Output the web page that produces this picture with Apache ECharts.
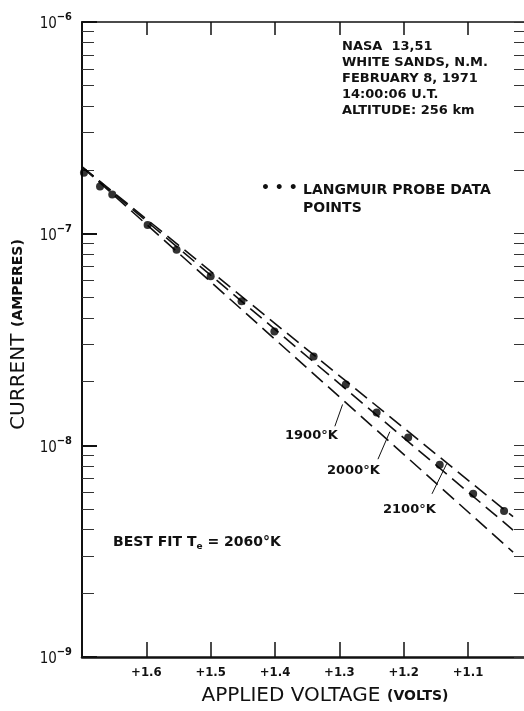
<!DOCTYPE html>
<html>
<head>
<meta charset="utf-8">
<script src="https://cdn.jsdelivr.net/npm/echarts@6/dist/echarts.min.js"></script>
<style>
  html, body { margin: 0; padding: 0; background: #fff; }
  #chart { width: 524px; height: 711px; }
</style>
</head>
<body>
<div id="chart"></div>
<script>
// Langmuir probe data points (volts, amperes)
const voltage = [1.697, 1.672, 1.653, 1.598, 1.553, 1.500, 1.452, 1.401, 1.340, 1.290, 1.242, 1.193, 1.144, 1.092, 1.044];
const current = [1.94e-7, 1.67e-7, 1.53e-7, 1.10e-7, 8.4e-8, 6.3e-8, 4.8e-8, 3.45e-8, 2.63e-8, 1.94e-8, 1.43e-8, 1.09e-8, 8.1e-9, 5.9e-9, 4.9e-9];

// fitted temperature curves (straight on the log axis): start + end
const fitNames = ["2100°K", "2000°K", "1900°K"];
const fitStartV = [1.70, 1.70, 1.70];
const fitStartI = [2.07e-7, 2.07e-7, 2.07e-7];
const fitEndV = [1.03, 1.03, 1.03];
const fitEndI = [4.6e-9, 3.98e-9, 3.13e-9];

// little leader lines from the labels to the curves
const leaderV = [[1.307, 1.295], [1.240, 1.2215], [1.156, 1.133]];
const leaderI = [[1.23e-8, 1.56e-8], [8.6e-9, 1.16e-8], [5.9e-9, 8.2e-9]];

// axes
const xMin = 1.013, xMax = 1.70;
const xTicks = [1.1, 1.2, 1.3, 1.4, 1.5, 1.6];
const yMin = 1e-9, yMax = 1e-6;
const yDecades = [1e-9, 1e-8, 1e-7, 1e-6];
const yMinorMult = [2, 3, 4, 5, 6, 7, 8, 9];

const yMinor = [];
yDecades.slice(0, 3).forEach(d => yMinorMult.forEach(m => yMinor.push(d * m)));
const yAll = yDecades.concat(yMinor);

const FONT = '"DejaVu Sans", sans-serif';
const FONT_C = '"DejaVu Sans Condensed", "DejaVu Sans", sans-serif';
const INK = "#111";

const chart = echarts.init(document.getElementById("chart"), null, { renderer: "canvas" });

const baseY = {
  type: "log",
  logBase: 10,
  min: yMin,
  max: yMax,
  splitLine: { show: false },
  axisLabel: { show: false },
  axisLine: { show: false },
};

const series = [];
fitNames.forEach((n, i) => {
  series.push({
    name: n,
    type: "line",
    data: [[fitStartV[i], fitStartI[i]], [fitEndV[i], fitEndI[i]]],
    symbol: "none",
    silent: true,
    lineStyle: { color: INK, width: 1.6, type: [15, 7] },
    z: 2,
  });
});
leaderV.forEach((lv, i) => {
  series.push({
    type: "line",
    data: [[lv[0], leaderI[i][0]], [lv[1], leaderI[i][1]]],
    symbol: "none",
    silent: true,
    lineStyle: { color: INK, width: 1 },
    z: 2,
  });
});
series.push({
  name: "LANGMUIR PROBE DATA POINTS",
  type: "scatter",
  data: voltage.map((v, i) => [v, current[i]]),
  symbol: "circle",
  symbolSize: 8,
  itemStyle: { color: "#000" },
  z: 3,
});

const option = {
  animation: false,
  backgroundColor: "#fff",
  grid: { left: 82, right: 0, top: 22, bottom: 53 },
  xAxis: [
    {
      type: "value",
      min: xMin,
      max: xMax,
      inverse: true,
      position: "bottom",
      splitLine: { show: false },
      axisLine: { lineStyle: { color: INK, width: 2.5 } },
      axisTick: { inside: true, length: 15, customValues: xTicks, lineStyle: { color: INK, width: 1.5 } },
      axisLabel: {
        customValues: xTicks,
        margin: 9,
        color: INK,
        fontFamily: FONT_C,
        fontWeight: "bold",
        fontSize: 13,
        formatter: v => "+" + v.toFixed(1),
      },
      name: "{a|APPLIED VOLTAGE}  {b|(VOLTS)}",
      nameLocation: "middle",
      nameGap: 29,
      nameTextStyle: {
        padding: [0, 0, 0, 44],
        rich: {
          a: { fontFamily: FONT, fontSize: 20, color: INK },
          b: { fontFamily: FONT, fontSize: 14, fontWeight: "bold", color: INK },
        },
      },
    },
    {
      type: "value",
      min: xMin,
      max: xMax,
      inverse: true,
      position: "top",
      splitLine: { show: false },
      axisLine: { lineStyle: { color: INK, width: 1.5 } },
      axisTick: { inside: true, length: 13, customValues: xTicks, lineStyle: { color: INK, width: 1.5 } },
      axisLabel: { show: false },
    },
  ],
  yAxis: [
    Object.assign({}, baseY, {
      position: "left",
      axisLine: { show: true, lineStyle: { color: INK, width: 2 } },
      axisTick: { inside: true, length: 15, customValues: yDecades, lineStyle: { color: INK, width: 2 } },
      axisLabel: {
        show: true,
        customValues: yDecades,
        margin: 10,
        formatter: v => "{b|10}{s|−" + Math.abs(Math.round(Math.log10(v))) + "}",
        rich: {
          b: { fontFamily: FONT_C, fontSize: 15, color: INK, lineHeight: 20, verticalAlign: "bottom" },
          s: { fontFamily: FONT_C, fontSize: 11, fontWeight: "bold", color: INK, lineHeight: 20, verticalAlign: "top" },
        },
      },
      name: "{a|CURRENT}  {b|(AMPERES)}",
      nameLocation: "middle",
      nameGap: 51,
      nameTextStyle: {
        padding: [0, 0, 0, 10],
        rich: {
          a: { fontFamily: FONT, fontSize: 20, color: INK },
          b: { fontFamily: FONT, fontSize: 14, fontWeight: "bold", color: INK },
        },
      },
    }),
    Object.assign({}, baseY, {
      position: "left",
      axisTick: { inside: true, length: 12, customValues: yMinor, lineStyle: { color: "#333", width: 1 } },
    }),
    Object.assign({}, baseY, {
      position: "right",
      axisTick: { inside: true, length: 10, customValues: yAll, lineStyle: { color: "#333", width: 1 } },
    }),
  ],
  series: series,
  graphic: [
    {
      type: "text",
      x: 342,
      y: 39,
      style: {
        text: "NASA  13,51\nWHITE SANDS, N.M.\nFEBRUARY 8, 1971\n14:00:06 U.T.\nALTITUDE: 256 km",
        font: "bold 13px " + FONT,
        lineHeight: 16,
        fill: INK,
      },
    },
    {
      type: "text",
      x: 261,
      y: 181,
      style: { text: "• • •", font: "bold 14px " + FONT, fill: INK },
    },
    {
      type: "text",
      x: 303,
      y: 181,
      style: {
        text: "LANGMUIR PROBE DATA\nPOINTS",
        font: "bold 14px " + FONT,
        lineHeight: 18,
        fill: INK,
      },
    },
    {
      type: "text",
      x: 113,
      y: 534,
      style: {
        text: "BEST FIT T{s|e} = 2060°K",
        font: "bold 14px " + FONT,
        fill: INK,
        rich: { s: { font: "bold 9px " + FONT, padding: [8, 0, 0, 0], fill: INK } },
      },
    },
    { type: "text", x: 285, y: 429, style: { text: "1900°K", font: "bold 13px " + FONT, fill: INK } },
    { type: "text", x: 327, y: 464, style: { text: "2000°K", font: "bold 13px " + FONT, fill: INK } },
    { type: "text", x: 383, y: 503, style: { text: "2100°K", font: "bold 13px " + FONT, fill: INK } },
  ],
};

chart.setOption(option);
</script>
</body>
</html>
